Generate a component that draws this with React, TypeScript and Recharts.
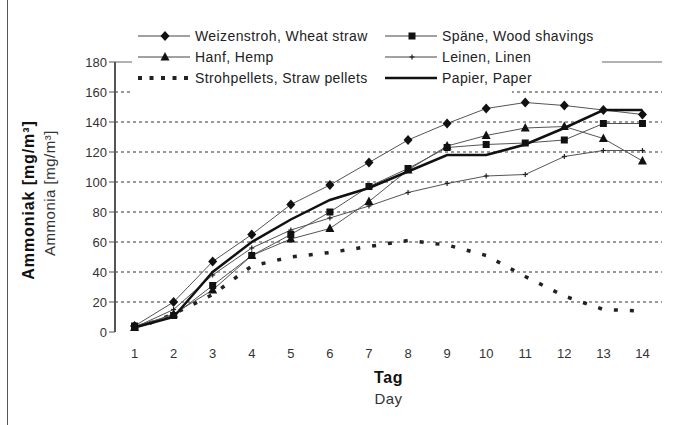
import React from 'react';
import { LineChart, Line, XAxis, YAxis, ReferenceLine, Legend } from 'recharts';

const days = [1, 2, 3, 4, 5, 6, 7, 8, 9, 10, 11, 12, 13, 14];
const wheatStraw = [4, 20, 47, 65, 85, 98, 113, 128, 139, 149, 153, 151, 148, 145];
const woodShavings = [4, 11, 31, 51, 65, 80, 97, 109, 123, 125, 126, 128, 139, 139];
const hemp = [3, 12, 28, 51, 62, 69, 87, 108, 124, 131, 136, 137, 129, 114];
const linen = [3, 15, 38, 56, 68, 76, 84, 93, 99, 104, 105, 117, 121, 121];
const strawPellets = [2, 12, 25, 44, 50, 53, 57, 61, 58, 51, 37, 24, 15, 14];
const paper = [3, 10, 40, 60, 75, 88, 96, 107, 118, 118, 125, 136, 148, 148];

const seriesNames = [
  'Weizenstroh, Wheat straw',
  'Späne, Wood shavings',
  'Hanf, Hemp',
  'Leinen, Linen',
  'Strohpellets, Straw pellets',
  'Papier, Paper',
];
const yTicks = [0, 20, 40, 60, 80, 100, 120, 140, 160, 180];
const gridValues = [20, 40, 60, 80, 100, 120, 140, 160];
const dayBoundaries = [0.5, 1.5, 2.5, 3.5, 4.5, 5.5, 6.5, 7.5, 8.5, 9.5, 10.5, 11.5, 12.5, 13.5, 14.5];
const yTitleDe = 'Ammoniak [mg/m³]';
const yTitleEn = 'Ammonia [mg/m³]';
const xTitleDe = 'Tag';
const xTitleEn = 'Day';

const data = days.map((d, i) => ({
  day: d,
  wheat: wheatStraw[i],
  wood: woodShavings[i],
  hemp: hemp[i],
  linen: linen[i],
  pellets: strawPellets[i],
  paper: paper[i],
}));

const FONT = '"Liberation Sans", Arial, sans-serif';

const Diamond = (p: any) => {
  const { cx, cy } = p;
  if (cx == null || cy == null) return <g key={p.key} />;
  return <path key={p.key} d={`M${cx},${cy - 5}L${cx + 4.5},${cy}L${cx},${cy + 5}L${cx - 4.5},${cy}Z`} fill="#111" />;
};
const Square = (p: any) => {
  const { cx, cy } = p;
  if (cx == null || cy == null) return <g key={p.key} />;
  return <rect key={p.key} x={cx - 3.5} y={cy - 3.5} width={7} height={7} fill="#111" />;
};
const Triangle = (p: any) => {
  const { cx, cy } = p;
  if (cx == null || cy == null) return <g key={p.key} />;
  return <path key={p.key} d={`M${cx},${cy - 5}L${cx + 4.5},${cy + 3.5}L${cx - 4.5},${cy + 3.5}Z`} fill="#111" />;
};
const Plus = (p: any) => {
  const { cx, cy } = p;
  if (cx == null || cy == null) return <g key={p.key} />;
  return (
    <g key={p.key}>
      <line x1={cx - 2.5} y1={cy} x2={cx + 2.5} y2={cy} stroke="#222" strokeWidth={1.2} />
      <line x1={cx} y1={cy - 2.5} x2={cx} y2={cy + 2.5} stroke="#222" strokeWidth={1.2} />
    </g>
  );
};

const legendRow = (
  x: number,
  y: number,
  label: string,
  kind: string,
  key: string
) => {
  let line: React.ReactNode;
  if (kind === 'dots') {
    line = <line x1={x} y1={y} x2={x + 52} y2={y} stroke="#222" strokeWidth={4} strokeDasharray="4 7.5" />;
  } else if (kind === 'thick') {
    line = <line x1={x} y1={y} x2={x + 52} y2={y} stroke="#111" strokeWidth={2.5} />;
  } else {
    line = <line x1={x} y1={y} x2={x + 52} y2={y} stroke="#444" strokeWidth={1} />;
  }
  const mx = x + 27;
  let marker: React.ReactNode = null;
  if (kind === 'diamond') marker = <Diamond cx={mx} cy={y} />;
  if (kind === 'square') marker = <Square cx={mx} cy={y} />;
  if (kind === 'triangle') marker = <Triangle cx={mx} cy={y} />;
  if (kind === 'plus') marker = <Plus cx={mx} cy={y} />;
  return (
    <g key={key}>
      {line}
      {marker}
      <text x={x + 57} y={y + 5} fontSize={14} letterSpacing={0.4} fill="#222" fontFamily={FONT}>
        {label}
      </text>
    </g>
  );
};

const LegendContent = () => (
  <div style={{ position: 'relative', width: 470, height: 70, background: '#fff' }}>
    <div style={{ position: 'absolute', left: 0, top: 70, width: 380, height: 8, background: '#fff' }} />
    <svg width={470} height={70} style={{ position: 'absolute', left: 0, top: 0 }}>
      {legendRow(6, 18, seriesNames[0], 'diamond', 'a')}
      {legendRow(6, 39, seriesNames[2], 'triangle', 'b')}
      {legendRow(6, 60, seriesNames[4], 'dots', 'c')}
      {legendRow(253, 18, seriesNames[1], 'square', 'd')}
      {legendRow(253, 39, seriesNames[3], 'plus', 'e')}
      {legendRow(253, 60, seriesNames[5], 'thick', 'f')}
    </svg>
  </div>
);

const XTick = (p: any) => (
  <text x={p.x} y={p.y + 10} textAnchor="middle" fontSize={13} fill="#333" fontFamily={FONT}>
    {p.payload.value}
  </text>
);

const YTick = (p: any) => (
  <text x={p.x} y={p.y + 5} textAnchor="end" fontSize={13} fill="#333" fontFamily={FONT}>
    {p.payload.value}
  </text>
);

const XTitle = (p: any) => {
  const vb = p.viewBox || {};
  const cx = vb.x + vb.width / 2;
  return (
    <g>
      <text x={cx} y={vb.y + 51} textAnchor="middle" fontSize={16} fontWeight="bold" letterSpacing={0.6} fill="#111" fontFamily={FONT}>
        {xTitleDe}
      </text>
      <text x={cx} y={vb.y + 72} textAnchor="middle" fontSize={15} letterSpacing={0.4} fill="#333" fontFamily={FONT}>
        {xTitleEn}
      </text>
    </g>
  );
};

const YTitle = (p: any) => {
  const vb = p.viewBox || {};
  const cy = vb.y + vb.height / 2;
  const x1 = 34;
  const x2 = 55;
  return (
    <g>
      <text x={x1} y={cy + 3} transform={`rotate(-90, ${x1}, ${cy + 3})`} textAnchor="middle" fontSize={16} fontWeight="bold" letterSpacing={0.9} fill="#111" fontFamily={FONT}>
        {yTitleDe}
      </text>
      <text x={x2} y={cy - 4} transform={`rotate(-90, ${x2}, ${cy - 4})`} textAnchor="middle" fontSize={15} letterSpacing={0.5} fill="#333" fontFamily={FONT}>
        {yTitleEn}
      </text>
    </g>
  );
};

export default function App() {
  return (
    <div style={{ position: 'absolute', left: 0, top: 0, width: 675, height: 425, background: '#fff' }}>
      <div style={{ position: 'absolute', left: 7, top: 0, width: 1, height: 425, background: '#555' }} />
      <LineChart
        width={675}
        height={425}
        data={data}
        margin={{ top: 62, right: 13, bottom: 33, left: 55 }}
        style={{ fontFamily: FONT }}
      >
        <XAxis
          dataKey="day"
          type="number"
          domain={[0.5, 14.5]}
          ticks={dayBoundaries}
          interval={0}
          allowDataOverflow
          height={0}
          tick={false}
          tickSize={4}
          tickLine={{ stroke: '#222' }}
          axisLine={{ stroke: '#222', strokeWidth: 2 }}
        />
        <XAxis
          xAxisId="lab"
          type="number"
          dataKey="day"
          domain={[0.5, 14.5]}
          ticks={days}
          interval={0}
          allowDataOverflow
          height={60}
          axisLine={false}
          tickLine={false}
          tickSize={6}
          tickMargin={10}
          tick={<XTick />}
          label={<XTitle />}
        />
        <YAxis
          type="number"
          domain={[0, 180]}
          ticks={yTicks}
          interval={0}
          width={60}
          tickSize={6}
          tickLine={{ stroke: '#555' }}
          axisLine={{ stroke: '#555', strokeWidth: 2 }}
          tick={<YTick />}
          label={<YTitle />}
        />
        <YAxis
          yAxisId="right"
          orientation="right"
          type="number"
          domain={[0, 180]}
          width={0}
          tick={false}
          tickLine={false}
          axisLine={{ stroke: '#999', strokeWidth: 1.5 }}
        />
        {gridValues.map((v) => (
          <ReferenceLine key={v} y={v} stroke="#777" strokeWidth={1.3} strokeDasharray="3 3" />
        ))}
        <ReferenceLine y={180} stroke="#999" strokeWidth={1.5} />
        <Legend
          layout="horizontal"
          verticalAlign="middle"
          align="center"
          content={<LegendContent />}
          wrapperStyle={{ position: 'absolute', left: 132, top: 18, width: 470, height: 78 }}
        />
        <Line dataKey="pellets" stroke="#222" strokeWidth={3.5} strokeDasharray="4 12" dot={false} activeDot={false} isAnimationActive={false} />
        <Line dataKey="linen" stroke="#555" strokeWidth={1} dot={<Plus />} activeDot={false} isAnimationActive={false} />
        <Line dataKey="hemp" stroke="#555" strokeWidth={1} dot={<Triangle />} activeDot={false} isAnimationActive={false} />
        <Line dataKey="wood" stroke="#555" strokeWidth={1} dot={<Square />} activeDot={false} isAnimationActive={false} />
        <Line dataKey="wheat" stroke="#555" strokeWidth={1} dot={<Diamond />} activeDot={false} isAnimationActive={false} />
        <Line dataKey="paper" stroke="#111" strokeWidth={2.5} dot={false} activeDot={false} isAnimationActive={false} />
      </LineChart>
    </div>
  );
}
